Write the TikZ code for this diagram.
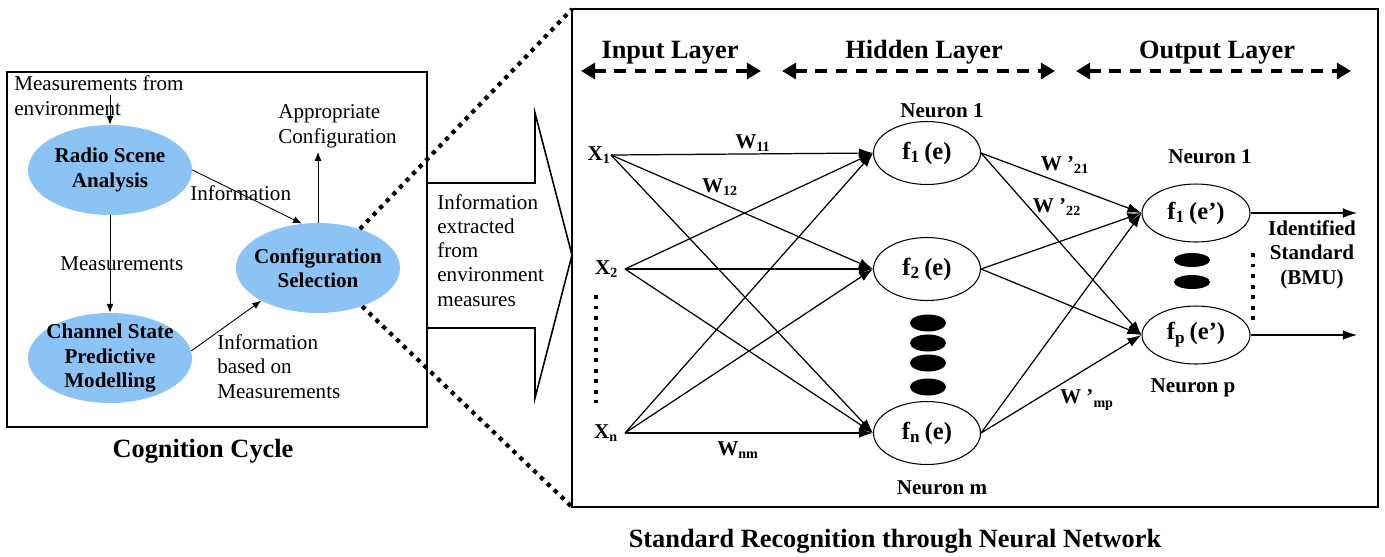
\documentclass[tikz,border=0pt]{standalone}
\usepackage{fontspec}
\setmainfont{Liberation Serif}
\usetikzlibrary{shapes.geometric,arrows.meta}
\definecolor{cogblue}{RGB}{140,195,245}

\begin{document}
\begin{tikzpicture}[x=0.02cm,y=-0.02cm,
  txt/.style={inner sep=0pt,font=\fontsize{12}{13.7}\selectfont,align=left},
  btxt/.style={inner sep=0pt,font=\fontsize{12}{13.7}\selectfont\bfseries,align=center},
  head/.style={inner sep=0pt,font=\fontsize{15}{18}\selectfont\bfseries},
  cog/.style={ellipse,fill=cogblue,minimum width=3.28cm,minimum height=1.8cm,inner sep=-10pt,font=\fontsize{12}{14}\selectfont\bfseries,align=center},
  neuron/.style={ellipse,draw,line width=0.6pt,minimum width=2.14cm,minimum height=1.26cm,inner sep=0pt,font=\fontsize{14}{16}\selectfont\bfseries},
  outneuron/.style={neuron,minimum width=2.16cm,minimum height=1.16cm},
  blob/.style={ellipse,fill=black,minimum width=0.72cm,minimum height=0.34cm,inner sep=0pt},
  cogarrow/.style={arrows={-Latex[length=5pt,width=4pt]},line width=0.5pt},
  netarrow/.style={arrows={-Latex[length=8pt,width=5.5pt]},line width=0.7pt},
  layer/.style={arrows={Triangle[length=8pt,width=9pt]-Triangle[length=8pt,width=9pt]},line width=2pt,dash pattern=on 6.5pt off 5pt},
  zoomline/.style={line width=2.4pt,dash pattern=on 2.4pt off 3pt},
  dotcol/.style={line width=2.2pt,dash pattern=on 2.2pt off 3.8pt}]
  \useasboundingbox (0,0) rectangle (1385,556);

  \draw[line width=1pt] (7,72) rectangle (427,427);
  \node[txt,anchor=base west] (envtxt) at (14,115) {Measurements from\\environment};
  \node[cog] (rs) at (110,170) {Radio Scene\\Analysis};
  \node[cog] (cs) at (110,358) {Channel State\\Predictive\\Modelling};
  \node[cog] (cf) at (318,268) {Configuration\\Selection};
  \coordinate (envin) at (110,95);
  \coordinate (cfout) at (318,152);
  \draw[cogarrow] (envin) -- (rs.north);
  \draw[cogarrow] (rs.south) -- (cs.north);
  \draw[cogarrow] (rs.east) -- (cf.110);
  \draw[cogarrow] (cs.5) -- (cf.210);
  \draw[cogarrow] (cf.north) -- (cfout);
  \node[txt,anchor=base west] (appr) at (278,143) {Appropriate\\Configuration};
  \node[txt,anchor=base west] (info) at (190,200) {Information};
  \node[txt,anchor=base west] (meas) at (60,270) {Measurements};
  \node[txt,anchor=base west] (infob) at (217,398) {Information\\based on\\Measurements};
  \node[head,anchor=base] (cogtitle) at (203,457) {Cognition Cycle};

  \draw[line width=0.9pt] (427,183) -- (535,183) -- (535,113) -- (572,255) -- (535,398) -- (535,328) -- (427,328);
  \node[txt,anchor=base west] (extr) at (437,306) {Information\\extracted\\from\\environment\\measures};

  \coordinate (bnw) at (572,9);
  \coordinate (bsw) at (572,507);
  \draw[zoomline] (cf.43) -- (bnw);
  \draw[zoomline] (cf.-41) -- (bsw);
  \draw[line width=1.4pt] (bnw) rectangle (1378,507);

  \node[head,anchor=base] (inl) at (670,58) {Input Layer};
  \node[head,anchor=base] (hidl) at (924,58) {Hidden Layer};
  \node[head,anchor=base] (outl) at (1217,58) {Output Layer};
  \foreach \a/\b/\n in {581/761/in,782/1055/hid,1076/1351/out}{
    \coordinate (\n a) at (\a,71);
    \coordinate (\n b) at (\b,71);
    \draw[layer] (\n a) -- (\n b);
  }

  \node[btxt,anchor=east] (x1) at (611,155) {X\textsubscript{1}};
  \node[btxt,anchor=east,inner xsep=0.13cm] (x2) at (625,269) {X\textsubscript{2}};
  \node[btxt,anchor=east,inner xsep=0.13cm] (xn) at (625,433) {X\textsubscript{n}};
  \draw[dotcol] (596,295) -- (596,403);

  \node[neuron] (h1) at (927,153) {f\textsubscript{1}\,(e)};
  \node[neuron] (h2) at (927,269) {f\textsubscript{2}\,(e)};
  \node[neuron] (hm) at (927,433) {f\textsubscript{n}\,(e)};
  \foreach \y [count=\i] in {323,343,363,387}
    \node[blob] (hb\i) at (928,\y) {};

  \node[outneuron] (o1) at (1196,213) {f\textsubscript{1}\,(e’)};
  \node[outneuron] (op) at (1196,335) {f\textsubscript{p}\,(e’)};
  \foreach \y [count=\i] in {260,282}
    \node[blob,minimum height=0.28cm] (ob\i) at (1192,\y) {};

  \foreach \s in {x1,x2,xn}
    \foreach \t in {h1,h2,hm}
      \draw[netarrow] (\s.east) -- (\t.west);
  \foreach \s in {h1,h2,hm}
    \foreach \t in {o1,op}
      \draw[netarrow] (\s.east) -- (\t.west);
  \coordinate (out1) at (1357,213);
  \coordinate (outp) at (1357,335);
  \draw[netarrow] (o1.east) -- (out1);
  \draw[netarrow] (op.east) -- (outp);
  \draw[dotcol] (1253,253) -- (1253,320);

  \node[btxt] (w11) at (753,143) {W\textsubscript{11}};
  \node[btxt] (w12) at (720,187) {W\textsubscript{12}};
  \node[btxt] (wnm) at (738,450) {W\textsubscript{nm}};
  \node[btxt] (w21) at (1065,165) {W ’\textsubscript{21}};
  \node[btxt] (w22) at (1057,207) {W ’\textsubscript{22}};
  \node[btxt] (wmp) at (1087,400) {W ’\textsubscript{mp}};
  \node[btxt] (n1) at (942,111) {Neuron 1};
  \node[btxt] (nm) at (942,488) {Neuron m};
  \node[btxt] (on1) at (1210,157) {Neuron 1};
  \node[btxt] (onp) at (1193,388) {Neuron p};
  \node[btxt,anchor=base] (ident) at (1312,284) {Identified\\Standard\\(BMU)};

  \node[head,anchor=base] (nntitle) at (895,547) {Standard Recognition through Neural Network};
\end{tikzpicture}
\end{document}
